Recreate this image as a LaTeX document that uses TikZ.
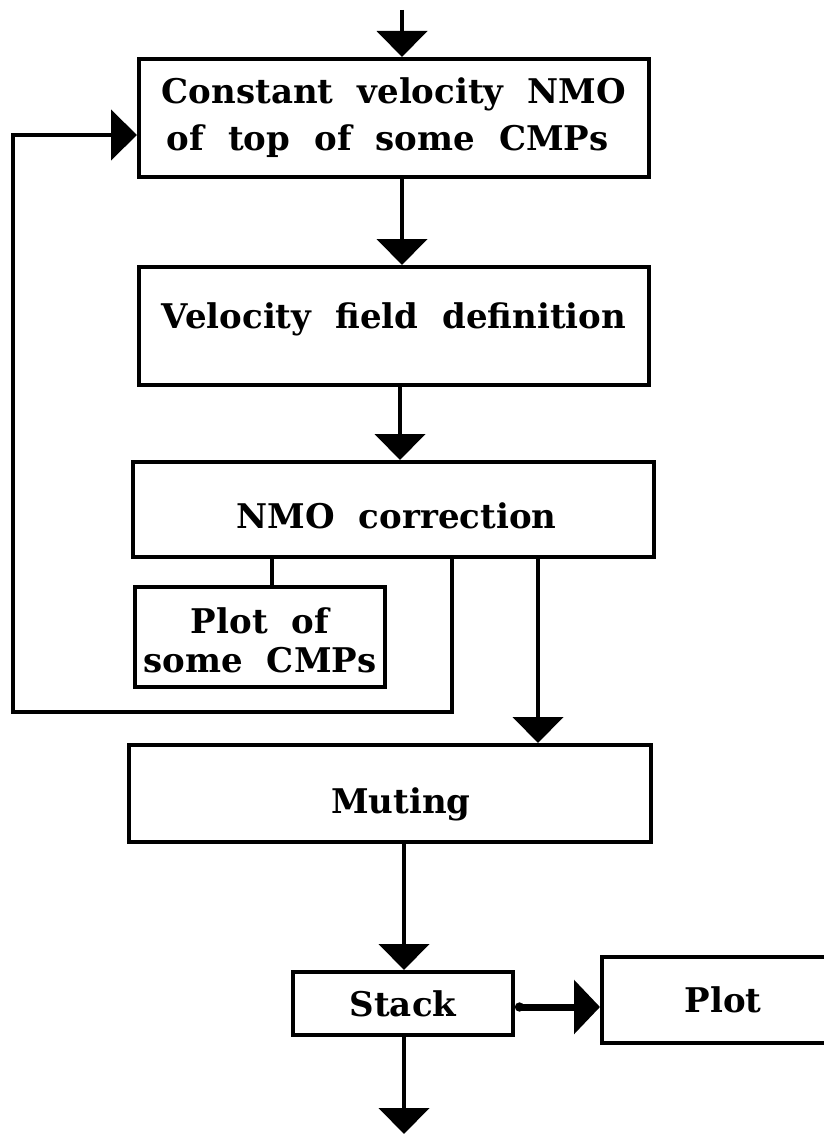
\documentclass[tikz,border=0pt]{standalone}
\usepackage{fontspec}
\setmainfont{DejaVu Serif}
\usetikzlibrary{arrows.meta}
\newcommand\boxfont[1][47pt]{\fontsize{34pt}{#1}\selectfont\bfseries\spaceskip=24pt plus 3pt minus 3pt\relax}
\tikzset{
  box/.style={draw, line width=4pt, inner sep=0pt, font=\boxfont, anchor=center},
  conn/.style={line width=4.5pt},
  arr/.style={conn, -{Triangle[length=26pt,width=50pt]}},
}
\begin{document}
\begin{tikzpicture}[x=1pt,y=-1pt]
\useasboundingbox (0,0) rectangle (823,1134);
% boxes
\node[box, minimum width=510pt, minimum height=118pt, align=left] (b1) at (394,118)
  {Constant velocity NMO\\\hspace*{5pt}of top of some CMPs};
\node[box, minimum width=510pt, minimum height=118pt, text depth=21pt] (b2) at (394,326)
  {Velocity field definition};
\node[box, minimum width=521pt, minimum height=95pt, text height=37pt, text depth=0pt] (b3) at (393.5,509.5)
  {\hspace*{6pt}NMO correction};
\node[box, minimum width=250pt, minimum height=100pt, align=center, font={\boxfont[39pt]}] (b4) at (260,637)
  {\rule{0pt}{33pt}Plot of\\some CMPs};
\node[box, minimum width=522pt, minimum height=97pt, text height=40pt, text depth=0pt] (b5) at (390,793.5)
  {\hspace*{22pt}Muting};
\node[box, minimum width=220pt, minimum height=63pt] (b6) at (403,1003.5)
  {Stack};
\node[box, minimum width=242pt, minimum height=86pt] (b7) at (723,1000)
  {Plot};
% helper coordinates
\coordinate (top) at (402,10);
\coordinate (c23) at (400,0);
\coordinate (c34) at (272,0);
\coordinate (c35) at (538,0);
\coordinate (c56) at (404,0);
\coordinate (c67) at (0,1007);
\coordinate (fbA) at (452,712);
\coordinate (fbB) at (13,712);
\coordinate (fbC) at (13,135);
\coordinate (out) at (404,1134);
% connectors
\draw[arr] (top) -- (top |- b1.north);
\draw[arr] (b1.south -| top) -- (b2.north -| top);
\draw[arr] (b2.south -| c23) -- (b3.north -| c23);
\draw[conn] (b3.south -| c34) -- (b4.north -| c34);
\draw[arr] (b3.south -| fbA) -- (fbA) -- (fbB) -- (fbC) -- (fbC -| b1.west);
\draw[arr] (b3.south -| c35) -- (b5.north -| c35);
\draw[arr] (b5.south -| c56) -- (b6.north -| c56);
\draw[line width=7pt, {Circle[length=9pt]}-{Triangle[length=26pt,width=53pt]}] (b6.east |- c67) -- (b7.west |- c67);
\draw[arr] (b6.south -| out) -- (out);
\end{tikzpicture}
\end{document}
